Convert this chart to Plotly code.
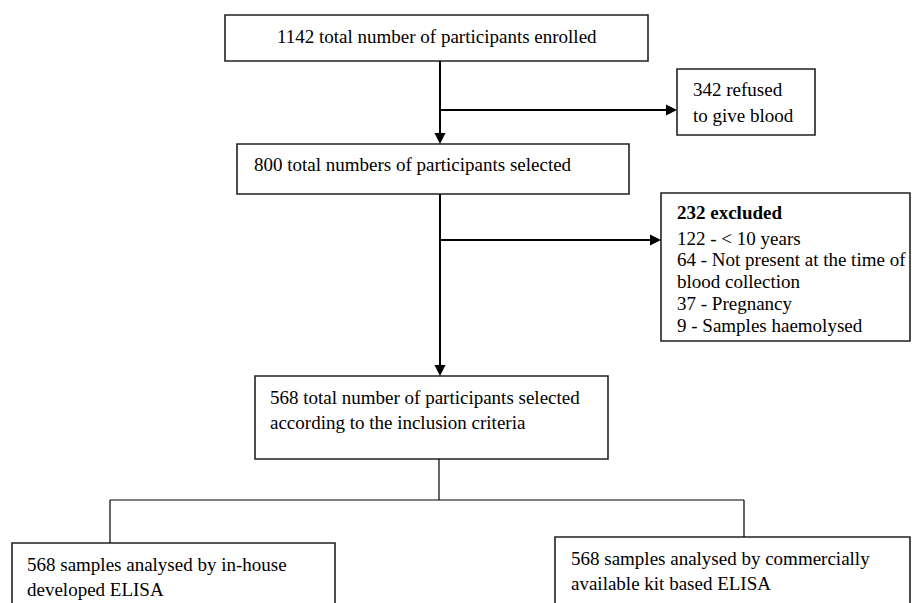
import plotly.graph_objects as go

# ---- content (text of the flowchart) ----
enrolled_text = ["1142 total number of participants enrolled"]
refused_text = ["342 refused", "to give blood"]
selected_text = ["800 total numbers of participants selected"]
excluded_title = ["<b>232 excluded</b>"]
excluded_text = ["122 - &lt; 10 years", "64 - Not present at the time of", "blood collection",
                 "37 - Pregnancy", "9 - Samples haemolysed"]
included_text = ["568 total number of participants selected", "according to the inclusion criteria"]
inhouse_text = ["568 samples analysed by in-house", "developed ELISA"]
commercial_text = ["568 samples analysed by commercially", "available kit based ELISA"]

# ---- layout geometry (pixels) ----
boxes = [  # x0, y0, x1, y1
    (225, 15, 648, 61),
    (677, 69, 815, 135),
    (237, 144, 629, 194),
    (661, 193, 910, 341),
    (255, 376, 608, 459),
    (12, 543, 335, 620),
    (555, 537, 910, 620),
]

FONT = "Liberation Serif"
FS = 19
fig = go.Figure()

shapes = []
for (x0, y0, x1, y1) in boxes:
    shapes.append(dict(type="rect", x0=x0, y0=y0, x1=x1, y1=y1, xref="x", yref="y",
                       line=dict(color="#222", width=1.6), fillcolor="white"))

def seg(x0, y0, x1, y1, w=2):
    shapes.append(dict(type="line", x0=x0, y0=y0, x1=x1, y1=y1, xref="x", yref="y",
                       line=dict(color="black", width=w)))

# connectors
seg(440, 61, 440, 136)
seg(440, 110, 669, 110)
seg(440, 194, 440, 368)
seg(440, 240, 653, 240)
seg(439, 459, 439, 500, 1.2)
seg(110, 500, 744, 500, 1.2)
seg(110, 500, 110, 543, 1.2)
seg(744, 500, 744, 537, 1.2)

annotations = []

def arrow(x, y, ax, ay):
    annotations.append(dict(x=x, y=y, ax=ax, ay=ay, xref="x", yref="y", axref="x", ayref="y",
                            text="", showarrow=True, arrowhead=2, arrowsize=1.1,
                            arrowwidth=2, arrowcolor="black"))

arrow(440, 144, 440, 120)
arrow(677, 110, 650, 110)
arrow(440, 376, 440, 350)
arrow(661, 240, 635, 240)

def lines(texts, x, y0, dy, anchor="left"):
    for i, t in enumerate(texts):
        annotations.append(dict(x=x, y=y0 + i * dy, xref="x", yref="y", text=t, showarrow=False,
                                xanchor=anchor, yanchor="middle",
                                font=dict(family=FONT, size=FS, color="black")))

lines(enrolled_text, 437, 36, 0, anchor="center")
lines(refused_text, 691, 89, 26)
lines(selected_text, 252, 164, 0)
lines(excluded_title, 675, 212, 0)
lines(excluded_text, 675, 238, 21.8)
lines(included_text, 268, 397, 25)
lines(inhouse_text, 25, 564, 25)
lines(commercial_text, 569, 558, 25)

fig.update_layout(
    width=912, height=603, margin=dict(l=0, r=0, t=0, b=0),
    paper_bgcolor="white", plot_bgcolor="white",
    xaxis=dict(range=[0, 912], visible=False, fixedrange=True),
    yaxis=dict(range=[603, 0], visible=False, fixedrange=True),
    shapes=shapes, annotations=annotations, showlegend=False,
)
# remove the default page margin so the figure sits at the window's top-left corner
fig.write_html("out.html", config={"displayModeBar": False},
               post_script="document.body.style.margin='0';document.body.style.overflow='hidden';")
